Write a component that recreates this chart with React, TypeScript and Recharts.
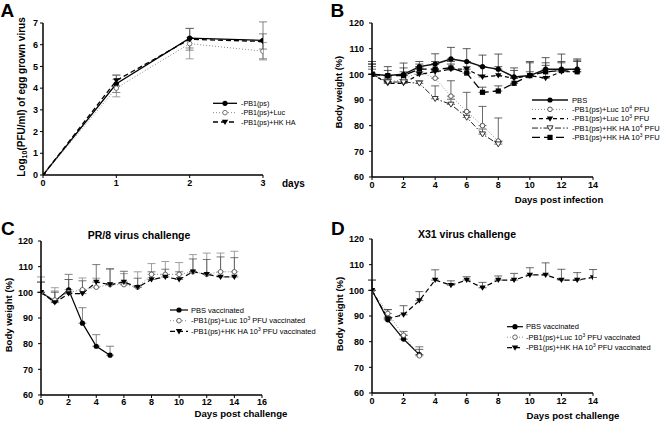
import React from "react";
import { LineChart, Line, XAxis, YAxis, ErrorBar } from "recharts";

const FONT = '"Liberation Sans", Arial, sans-serif';

// ---- A: virus growth in eggs (log10 PFU/ml)
const aDays = [0, 1, 2, 3];
const aPb1 = [0, 4.2, 6.3, 6.2];
const aPb1Err = [0, 0.4, 0.45, 0.85];
const aLuc = [0, 4.0, 6.05, 5.7];
const aLucErr = [0, 0.4, 0.7, 0.4];
const aHkHa = [0, 4.35, 6.25, 6.15];
const aHkHaErr = [0, 0.25, 0.5, 0.35];

// ---- B: body weight after infection
const bDays = [0, 1, 2, 3, 4, 5, 6, 7, 8, 9, 10, 11, 12, 13];
const bPbs = [100, 99.5, 100, 103, 104, 106, 105, 103, 102, 99, 99.5, 102, 102, 102];
const bPbsErr = [5, 3.5, 4.4, 2, 4, 4.5, 5, 4.5, 5.9, 3.5, 5, 4.5, 5.9, 4];
const bLuc4 = [100, 97, 98, 101, 98.5, 91.5, 85.5, 80, 74];
const bLuc4Err = [3, 2, 3, 2, 3, 6, 7.5, 7.5, 9];
const bLuc3 = [100, 96.5, 96.5, 100, 101, 102, 102, 99, 99.5, 98.5, 99.5, 98.5, 101, 101];
const bLuc3Err = [4, 2, 3, 2.5, 4, 3, 3, 4, 3.5, 3, 5.5, 6, 4, 4.5];
const bHk4 = [100, 97, 97, 96.5, 90.5, 88.3, 83.2, 76.7, 72.8];
const bHk4Err = [2, 1, 1, 1, 5, 2, 2, 2, 1];
const bHk3 = [100, 99.5, 99.5, 102, 102, 102.5, 100.5, 93, 93.5, 96.5, 99.5, 101, 101.5, 101];
const bHk3Err = [4, 2, 3, 2, 2, 1.5, 2.5, 2, 2, 2, 1.5, 2.5, 3, 4];

// ---- C: PR/8 challenge
const cDays = [0, 1, 2, 3, 4, 5, 6, 7, 8, 9, 10, 11, 12, 13, 14];
const cPbs = [100, 96.5, 101, 88, 79, 75.5];
const cPbsErr = [4, 4, 6, 6, 4.5, 3.5];
const cLuc = [100, 97, 100, 101, 102, 103, 103, 102, 107, 107, 107, 108, 107, 108, 108];
const cLucErr = [6, 4.8, 5, 4.6, 3.5, 6, 4.3, 6, 4.2, 5, 4.6, 6.7, 8.3, 7.3, 8];
const cHkHa = [100, 96, 99.5, 99.5, 104, 103, 104, 102, 105, 106, 105, 108, 107, 106, 106];
const cHkHaErr = [4, 4, 5.5, 5, 6.8, 6.2, 4.2, 3.5, 3, 3, 3, 5, 5.8, 7.8, 7.5];

// ---- D: X31 challenge
const dDays = [0, 1, 2, 3, 4, 5, 6, 7, 8, 9, 10, 11, 12, 13, 14];
const dPbs = [100, 88.5, 81, 75];
const dPbsErr = [0, 1, 1.5, 2];
const dLuc = [100, 91, 82.5, 74.5];
const dLucErr = [4, 1.5, 1.5, 3.5];
const dHkHa = [100, 89, 90.5, 96, 104, 102, 104, 101, 104, 104, 106, 106, 104, 104, 105];
const dHkHaErr = [4, 3.5, 3.5, 3.5, 4, 1.7, 1.3, 2.1, 1.6, 2.6, 2.8, 4.7, 4.2, 2.9, 3.1];

const aTicksX = [0, 1, 2, 3];
const aTicksY = [0, 1, 2, 3, 4, 5, 6, 7];
const bwTicksY = [60, 70, 80, 90, 100, 110, 120];
const bTicksX = [0, 2, 4, 6, 8, 10, 12, 14];
const cTicksX = [0, 2, 4, 6, 8, 10, 12, 14, 16];

type Col = { key: string; values: (number | null)[]; err?: (number | null)[]; up?: boolean };

function buildRows(days: number[], cols: Col[]) {
  return days.map((day, i) => {
    const row: Record<string, unknown> = { day };
    cols.forEach((c) => {
      const v = c.values[i];
      row[c.key] = v ?? null;
      const e = c.err?.[i];
      if (v != null && e != null && e > 0) row[c.key + "Err"] = c.up ? [0, e] : e;
    });
    return row;
  });
}

const aRows = buildRows(aDays, [
  { key: "pb1", values: aPb1, err: aPb1Err },
  { key: "luc", values: aLuc, err: aLucErr },
  { key: "hk", values: aHkHa, err: aHkHaErr },
]);
const bRows = buildRows(bDays, [
  { key: "pbs", values: bPbs, err: bPbsErr, up: true },
  { key: "luc4", values: bLuc4, err: bLuc4Err, up: true },
  { key: "luc3", values: bLuc3, err: bLuc3Err, up: true },
  { key: "hk4", values: bHk4, err: bHk4Err, up: true },
  { key: "hk3", values: bHk3, err: bHk3Err, up: true },
]);
const cRows = buildRows(cDays, [
  { key: "pbs", values: cPbs, err: cPbsErr, up: true },
  { key: "luc", values: cLuc, err: cLucErr, up: true },
  { key: "hk", values: cHkHa, err: cHkHaErr, up: true },
]);
const dRows = buildRows(dDays, [
  { key: "pbs", values: dPbs, err: dPbsErr, up: true },
  { key: "luc", values: dLuc, err: dLucErr, up: true },
  { key: "hk", values: dHkHa, err: dHkHaErr, up: true },
]);

type Shape = "dot" | "ring" | "tri" | "openTri" | "square";
type Series = {
  key: string;
  shape: Shape;
  color: string;
  marker: string;
  width: number;
  dash?: string;
  err: string;
  label: [string, string?, string?];
};

const aSeries: Series[] = [
  { key: "pb1", shape: "dot", color: "#000", marker: "#000", width: 1.3, err: "#666", label: ["-PB1(ps)"] },
  { key: "luc", shape: "ring", color: "#8a8a8a", marker: "#666", width: 1, dash: "1 2", err: "#888", label: ["-PB1(ps)+Luc"] },
  { key: "hk", shape: "tri", color: "#000", marker: "#000", width: 1.3, dash: "5 3", err: "#666", label: ["-PB1(ps)+HK HA"] },
];
const bSeries: Series[] = [
  { key: "pbs", shape: "dot", color: "#111", marker: "#000", width: 1.5, err: "#333", label: ["PBS"] },
  { key: "luc4", shape: "ring", color: "#8a8a8a", marker: "#444", width: 1, dash: "1 2", err: "#444", label: ["-PB1(ps)+Luc 10", "4", " PFU"] },
  { key: "luc3", shape: "tri", color: "#000", marker: "#000", width: 1.2, dash: "4 3", err: "#333", label: ["-PB1(ps)+Luc 10", "3", " PFU"] },
  { key: "hk4", shape: "openTri", color: "#222", marker: "#222", width: 1, dash: "6 2 1.5 2", err: "#444", label: ["-PB1(ps)+HK HA 10", "4", " PFU"] },
  { key: "hk3", shape: "square", color: "#000", marker: "#000", width: 1.3, dash: "8 4", err: "#333", label: ["-PB1(ps)+HK HA 10", "3", " PFU"] },
];
const cSeries: Series[] = [
  { key: "pbs", shape: "dot", color: "#000", marker: "#000", width: 1.2, err: "#666", label: ["PBS vaccinated"] },
  { key: "luc", shape: "ring", color: "#8a8a8a", marker: "#555", width: 1, dash: "1 2", err: "#888", label: ["-PB1(ps)+Luc 10", "3", " PFU vaccinated"] },
  { key: "hk", shape: "tri", color: "#000", marker: "#000", width: 1.2, dash: "5 3", err: "#555", label: ["-PB1(ps)+HK HA 10", "3", " PFU vaccinated"] },
];
const dSeries: Series[] = [
  { key: "pbs", shape: "dot", color: "#000", marker: "#000", width: 1.2, err: "#444", label: ["PBS vaccinated"] },
  { key: "luc", shape: "ring", color: "#8a8a8a", marker: "#555", width: 1, dash: "1 2", err: "#555", label: ["-PB1(ps)+Luc 10", "3", " PFU vaccinated"] },
  { key: "hk", shape: "tri", color: "#000", marker: "#000", width: 1.2, dash: "5 3", err: "#444", label: ["-PB1(ps)+HK HA 10", "3", " PFU vaccinated"] },
];

function Marker({ x, y, shape, color }: { x: number; y: number; shape: Shape; color: string }) {
  switch (shape) {
    case "dot":
      return <circle cx={x} cy={y} r={2.6} fill={color} />;
    case "ring":
      return <circle cx={x} cy={y} r={2.3} fill="#fff" stroke={color} strokeWidth={0.9} />;
    case "tri":
      return <path d={`M${x - 3.2},${y - 2.3}L${x + 3.2},${y - 2.3}L${x},${y + 3}Z`} fill={color} />;
    case "openTri":
      return <path d={`M${x - 3},${y - 2.2}L${x + 3},${y - 2.2}L${x},${y + 2.8}Z`} fill="#fff" stroke={color} strokeWidth={0.9} />;
    default:
      return <rect x={x - 2.6} y={y - 2.6} width={5.2} height={5.2} fill={color} />;
  }
}

const dotFor = (s: Series) => (props: any) => {
  const { cx, cy, index, payload } = props;
  if (cx == null || cy == null || payload == null || payload[s.key] == null) return <g key={index} />;
  return (
    <g key={index}>
      <Marker x={cx} y={cy} shape={s.shape} color={s.marker} />
    </g>
  );
};

type PanelProps = {
  left: number;
  top: number;
  width: number;
  height: number;
  margin: { top: number; right: number; bottom: number; left: number };
  yWidth: number;
  rows: Record<string, unknown>[];
  series: Series[];
  xDomain: [number, number];
  xTicks: number[];
  yDomain: [number, number];
  yTicks: number[];
  yGap: number;
  xGap: number;
};

function Panel(p: PanelProps) {
  const tick = { fontSize: 9, fontWeight: "bold" as const, fill: "#000", fontFamily: FONT };
  return (
    <div style={{ position: "absolute", left: p.left, top: p.top }}>
      <LineChart width={p.width} height={p.height} data={p.rows} margin={p.margin}>
        <XAxis
          type="number"
          dataKey="day"
          domain={p.xDomain}
          ticks={p.xTicks}
          allowDataOverflow
          height={20}
          tick={tick}
          tickSize={3}
          tickMargin={p.xGap}
          axisLine={{ stroke: "#000", strokeWidth: 1.5 }}
          tickLine={{ stroke: "#000" }}
        />
        <YAxis
          type="number"
          domain={p.yDomain}
          ticks={p.yTicks}
          allowDataOverflow
          width={p.yWidth}
          tick={tick}
          tickSize={3}
          tickMargin={p.yGap}
          axisLine={{ stroke: "#000", strokeWidth: 1.5 }}
          tickLine={{ stroke: "#000" }}
        />
        {p.series.map((s) => (
          <Line
            key={s.key}
            dataKey={s.key}
            stroke={s.color}
            strokeWidth={s.width}
            strokeDasharray={s.dash}
            dot={dotFor(s)}
            activeDot={false}
            isAnimationActive={false}
          >
            <ErrorBar dataKey={s.key + "Err"} width={4} stroke={s.err} strokeWidth={0.8} direction="y" isAnimationActive={false} />
          </Line>
        ))}
      </LineChart>
    </div>
  );
}

function LegendBlock({ series, x1, x2, tx, y0, step, fontSize }: { series: Series[]; x1: number; x2: number; tx: number; y0: number; step: number; fontSize: number }) {
  return (
    <g>
      {series.map((s, i) => {
        const y = y0 + i * step;
        const [main, sup, tail] = s.label;
        return (
          <g key={s.key}>
            <line x1={x1} x2={x2} y1={y} y2={y} stroke={s.color} strokeWidth={s.width} strokeDasharray={s.dash} />
            <Marker x={(x1 + x2) / 2} y={y} shape={s.shape} color={s.marker} />
            <text x={tx} y={y + fontSize * 0.36} fontSize={fontSize} fill="#000">
              {main}
              {sup && (
                <tspan fontSize={fontSize * 0.65} dy={-fontSize * 0.4}>
                  {sup}
                </tspan>
              )}
              {tail && <tspan dy={fontSize * 0.4}>{tail}</tspan>}
            </text>
          </g>
        );
      })}
    </g>
  );
}

export default function App() {
  return (
    <div style={{ position: "absolute", left: 0, top: 0, width: 664, height: 423, background: "#fff", fontFamily: FONT, overflow: "hidden" }}>
      <Panel left={0} top={0} width={330} height={210} margin={{ top: 23, right: 67, bottom: 15, left: 0 }} yWidth={43}
        rows={aRows} series={aSeries} xDomain={[0, 3]} xTicks={aTicksX} yDomain={[0, 7]} yTicks={aTicksY} yGap={2} xGap={2} />
      <Panel left={330} top={0} width={334} height={210} margin={{ top: 23, right: 71, bottom: 13, left: 0 }} yWidth={42}
        rows={bRows} series={bSeries} xDomain={[0, 14]} xTicks={bTicksX} yDomain={[60, 120]} yTicks={bwTicksY} yGap={5} xGap={2} />
      <Panel left={0} top={210} width={330} height={213} margin={{ top: 31, right: 68, bottom: 8, left: 0 }} yWidth={41}
        rows={cRows} series={cSeries} xDomain={[0, 16]} xTicks={cTicksX} yDomain={[60, 120]} yTicks={bwTicksY} yGap={5} xGap={1} />
      <Panel left={330} top={210} width={334} height={213} margin={{ top: 29, right: 71, bottom: 10, left: 0 }} yWidth={42}
        rows={dRows} series={dSeries} xDomain={[0, 14]} xTicks={bTicksX} yDomain={[60, 120]} yTicks={bwTicksY} yGap={5} xGap={2} />

      <svg width={664} height={423} style={{ position: "absolute", left: 0, top: 0, pointerEvents: "none" }} fontFamily={FONT}>
        <g fontWeight="bold" fontSize={19} fill="#000">
          <text x={0.5} y={17.3}>A</text>
          <text x={330.5} y={17.3}>B</text>
          <text x={1} y={235}>C</text>
          <text x={331} y={235}>D</text>
        </g>
        <g fontWeight="bold" fill="#000">
          <text fontSize={10.5} x={139} y={239} textAnchor="middle">PR/8 virus challenge</text>
          <text fontSize={10.5} x={467} y={238} textAnchor="middle">X31 virus challenge</text>
          <text fontSize={10} x={282} y={187}>days</text>
          <text fontSize={9.6} x={559} y={203} textAnchor="middle">Days post infection</text>
          <text fontSize={9.6} x={241} y={416.5} textAnchor="middle">Days post challenge</text>
          <text fontSize={9.6} x={573} y={419} textAnchor="middle">Days post challenge</text>
          <text fontSize={10} transform="translate(24.5,97) rotate(-90)" textAnchor="middle">
            Log<tspan fontSize={7} dy={2}>10</tspan>
            <tspan dy={-2}>(PFU/ml) of egg grown virus</tspan>
          </text>
          <text fontSize={9.3} transform="translate(342,92) rotate(-90)" textAnchor="middle">Body weight (%)</text>
          <text fontSize={9.6} transform="translate(12,315) rotate(-90)" textAnchor="middle">Body weight (%)</text>
          <text fontSize={9.6} transform="translate(343,314) rotate(-90)" textAnchor="middle">Body weight (%)</text>
        </g>
        <LegendBlock series={aSeries} x1={213} x2={237} tx={241} y0={103.3} step={9.35} fontSize={7.2} />
        <LegendBlock series={bSeries} x1={532} x2={568} tx={572} y0={100} step={9.35} fontSize={7.6} />
        <LegendBlock series={cSeries} x1={170} x2={188} tx={191} y0={310} step={10.7} fontSize={7.5} />
        <LegendBlock series={dSeries} x1={507} x2={523} tx={526} y0={326.7} step={10.5} fontSize={7.5} />
      </svg>
    </div>
  );
}
